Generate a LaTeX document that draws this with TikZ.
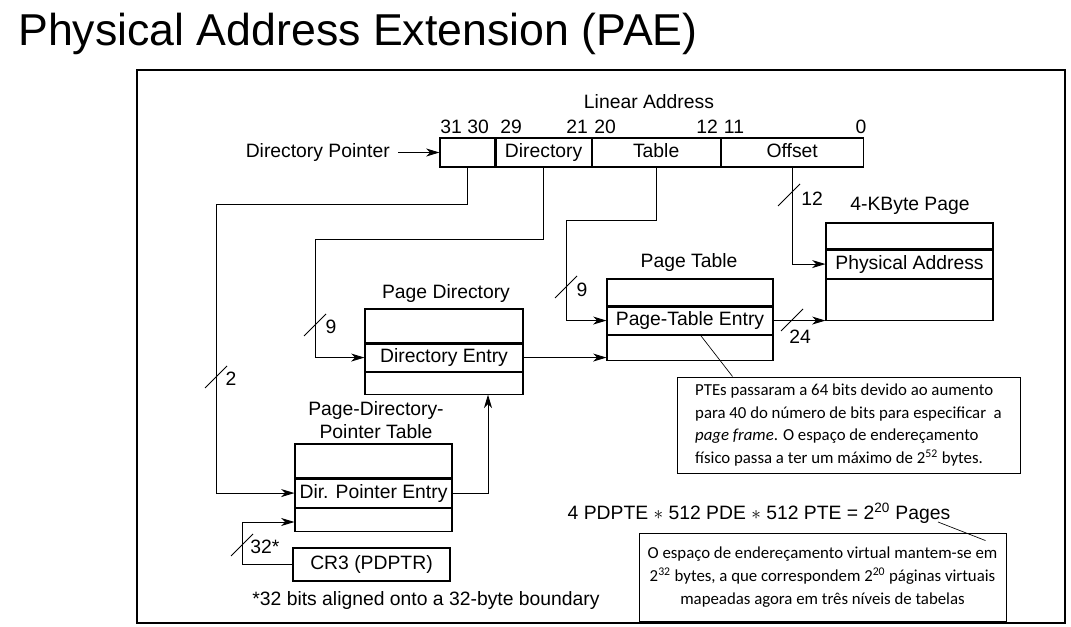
\documentclass[tikz,border=0pt]{standalone}
\usepackage{fontspec}
\setmainfont{Liberation Sans}
\newfontfamily\notefont{Carlito}
\usepackage{tikz}
\usetikzlibrary{shapes,arrows.meta,positioning}

\newcommand{\diag}{\fontsize{14.5}{17}\selectfont}
\tikzset{
  field/.style={rectangle, draw, line width=0.8pt, minimum height=21.75pt, inner sep=0pt, text height=10.5pt, text depth=2.8pt, font=\diag},
  row/.style={rectangle, draw, line width=0.8pt, inner sep=0pt, text height=10.5pt, text depth=2.8pt, font=\diag},
  lbl/.style={inner sep=0pt, font=\diag},
  wire/.style={line width=0.7pt},
  arr/.style={wire, -{Stealth[length=10pt,width=6pt,inset=3pt]}},
  note/.style={rectangle, draw, line width=0.7pt, inner xsep=2pt, font={\notefont\fontsize{12.6}{17}\selectfont}},
}

\begin{document}
\begin{tikzpicture}[x=0.75pt, y=-0.75pt]
\useasboundingbox (0,0) rectangle (1071,627);
\node (title) [anchor=base west, inner sep=0pt, font=\fontsize{33.5}{40}\selectfont] at (18,46) {Physical Address Extension (PAE)};
\draw[line width=1pt] (137,70) rectangle (1065,623);

\node (linaddr) [lbl] at (649,102) {Linear Address};
\node (dp) [field, minimum width=41.25pt] at (467.5,152.5) {};
\node (dir) [field, minimum width=71.25pt, right=0pt of dp] {Directory};
\node (tbl) [field, minimum width=96pt, right=0pt of dir] {Table};
\node (off) [field, minimum width=106.5pt, right=0pt of tbl] {Offset};
\node (b31) [lbl] at (451,127) {31};
\node (b30) [lbl] at (478,127) {30};
\node (b29) [lbl] at (511,127) {29};
\node (b21) [lbl] at (577,127) {21};
\node (b20) [lbl] at (605,127) {20};
\node (b12) [lbl] at (707,127) {12};
\node (b11) [lbl] at (734,127) {11};
\node (b0) [lbl] at (861,127) {0};
\node (dplbl) [lbl, anchor=east] at (390,152.5) {Directory Pointer};

\node (kblbl) [lbl] at (910,206) {4-KByte Page};
\node (kb1) [row, minimum width=125.25pt, minimum height=19.5pt] at (909.5,236) {};
\node (pa) [row, minimum width=125.25pt, minimum height=21pt, below=0pt of kb1] {Physical Address};
\node (kb3) [row, minimum width=125.25pt, minimum height=30.75pt, below=0pt of pa] {};

\node (ptlbl) [lbl] at (689,263) {Page Table};
\node (pt1) [row, minimum width=124.5pt, minimum height=20.25pt] at (690,292.5) {};
\node (pte) [row, minimum width=124.5pt, minimum height=20.25pt, below=0pt of pt1] {Page-Table Entry};
\node (pt3) [row, minimum width=124.5pt, minimum height=18.75pt, below=0pt of pte] {};

\node (pdlbl) [lbl] at (446,294) {Page Directory};
\node (pd1) [row, minimum width=118.5pt, minimum height=25.5pt] at (444,326) {};
\node (pde) [row, minimum width=118.5pt, minimum height=20.25pt, below=0pt of pd1] {Directory Entry};
\node (pd3) [row, minimum width=118.5pt, minimum height=16.5pt, below=0pt of pde] {};

\node (pdptlbl) [lbl, align=center] at (376,420) {Page-Directory-\\Pointer Table};
\node (pdpt1) [row, minimum width=117.75pt, minimum height=25.5pt] at (373.5,461) {};
\node (pdpe) [row, minimum width=117.75pt, minimum height=21pt, below=0pt of pdpt1] {Dir. Pointer Entry};
\node (pdpt3) [row, minimum width=117.75pt, minimum height=17.25pt, below=0pt of pdpe] {};

\node (cr3) [row, minimum width=117.75pt, minimum height=24.75pt] at (371.5,564.5) {CR3 (PDPTR)};
\node (align) [lbl] at (426,600) {*32 bits aligned onto a 32-byte boundary};

\node (eq) [lbl] at (759,513) {4 PDPTE $*$ 512 PDE $*$ 512 PTE = 2\textsuperscript{20} Pages};

\node (ptenote) [note, minimum width=257.25pt, minimum height=72pt, align=left] at (848.5,425) {PTEs passaram a 64 bits devido ao aumento\\para 40 do número de bits para especificar~ a\\\textit{page frame}. O espaço de endereçamento\\físico passa a ter um máximo de 2\textsuperscript{52} bytes.};
\node (vnote) [note, minimum width=275.25pt, minimum height=66pt, align=center] at (822.5,577) {O espaço de endereçamento virtual mantem-se em\\2\textsuperscript{32} bytes, a que correspondem 2\textsuperscript{20} páginas virtuais\\mapeadas agora em três níveis de tabelas};

\coordinate (dpbend) at (216,204);
\coordinate (dirbend) at (315,239);
\coordinate (tblbend) at (566,220);
\coordinate (crbend) at (242,522);
\coordinate (pagesg) at (938,522);

\draw[arr] ([xshift=6pt]dplbl.east) -- (dp.west);
\draw[arr] (dp.south) |- (dpbend) |- (pdpe.west);
\draw[arr] (dir.south) |- (dirbend) |- (pde.west);
\draw[arr] (tbl.south) |- (tblbend) |- (pte.west);
\draw[arr] (off.south) |- (pa.west);
\draw[arr] (pde.east) -- (pde.east -| pt3.west);
\draw[arr] (pte.east) -- (pte.east -| kb3.west);
\draw[arr] (pdpe.east) -| ([xshift=33pt]pd3.south);
\draw[arr] (cr3.west) -| (crbend) -- (crbend -| pdpt3.west);
\draw[line width=0.5pt] ([xshift=7.5pt]pte.south) -- ([xshift=42pt]ptenote.north west);
\draw[line width=0.5pt] (pagesg) -- ([xshift=-15.75pt,yshift=-6pt]vnote.north east);

\draw[wire] (216,377) ++(-11,11) -- ++(22,-22);
\node (w2) [lbl] at (231,379) {2};
\draw[wire] (315,325) ++(-11,11) -- ++(22,-22);
\node (w9a) [lbl] at (331,327) {9};
\draw[wire] (566,287) ++(-11,11) -- ++(22,-22);
\node (w9b) [lbl] at (582,290) {9};
\draw[wire] (789,195) ++(-11,11) -- ++(22,-22);
\node (w12) [lbl] at (812,199) {12};
\draw[wire] (792,320) ++(-11,11) -- ++(22,-22);
\node (w24) [lbl] at (800,337) {24};
\draw[wire] (242,545) ++(-11,11) -- ++(22,-22);
\node (w32) [lbl] at (265,547) {32*};
\end{tikzpicture}
\end{document}
